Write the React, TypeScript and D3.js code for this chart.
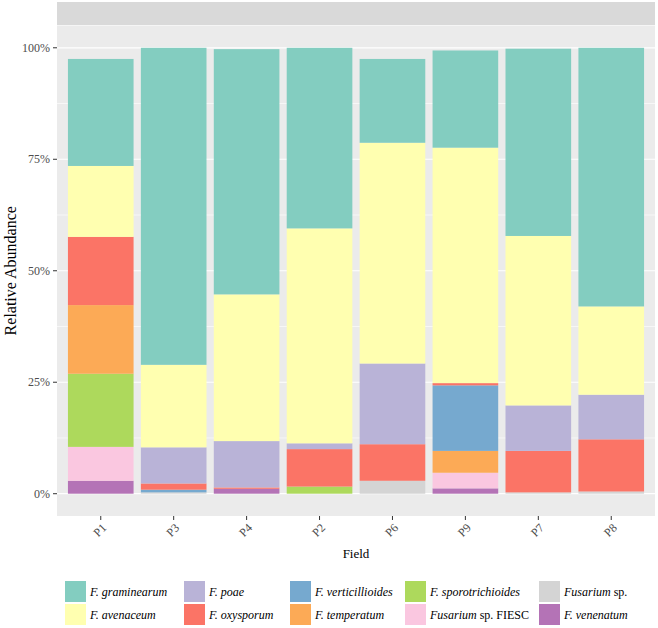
import React from "react";
import * as d3 from "d3";

const fields = ["P1", "P3", "P4", "P2", "P6", "P9", "P7", "P8"];
const graminearum = [24.0, 71.1, 55.0, 40.5, 18.8, 21.8, 42.0, 58.0];
const avenaceum = [15.9, 18.5, 32.9, 48.2, 49.5, 52.8, 38.0, 19.8];
const poae = [0, 8.1, 10.4, 1.3, 18.1, 0, 10.2, 10.0];
const oxysporum = [15.3, 1.4, 0.3, 8.4, 8.2, 0.5, 9.3, 11.7];
const verticillioides = [0, 0.6, 0, 0, 0, 14.7, 0, 0];
const temperatum = [15.4, 0, 0, 0, 0, 4.9, 0, 0];
const sporotrichioides = [16.4, 0, 0, 1.6, 0, 0, 0, 0];
const fiesc = [7.6, 0, 0, 0, 0, 3.5, 0, 0];
const fusariumSp = [0, 0.3, 0, 0, 2.9, 0, 0.3, 0.5];
const venenatum = [2.9, 0, 1.1, 0, 0, 1.2, 0, 0];

const yTicks = [0, 0.25, 0.5, 0.75, 1];
const yTickLabels = ["0%", "25%", "50%", "75%", "100%"];

// legend order (column-major in 2 rows)
const speciesKeys = [
  "gram", "aven", "poae", "oxy", "vert", "temp", "sporo", "fiesc", "fussp", "ven",
];
const speciesItalic = [
  "F. graminearum", "F. avenaceum", "F. poae", "F. oxysporum", "F. verticillioides",
  "F. temperatum", "F. sporotrichioides", "Fusarium", "Fusarium", "F. venenatum",
];
const speciesRegular = ["", "", "", "", "", "", "", " sp. FIESC", " sp.", ""];
const speciesColors = [
  "#83CDC0", "#FFFFB0", "#B9B3D7", "#FB7466", "#76A9CF",
  "#FCAA56", "#ADD95C", "#FAC7E0", "#D4D4D4", "#B473B6",
];
const seriesValues = [
  graminearum, avenaceum, poae, oxysporum, verticillioides,
  temperatum, sporotrichioides, fiesc, fusariumSp, venenatum,
];

const W = 658, H = 628;
const panel = { left: 57, right: 655, top: 25.5, bottom: 516 };
const font = "'Liberation Serif', 'Times New Roman', Times, serif";

export default function App() {
  const rows = fields.map((f, i) => {
    const r: any = { field: f };
    speciesKeys.forEach((k, j) => (r[k] = seriesValues[j][i] / 100));
    return r;
  });
  const stackOrder = [...speciesKeys].reverse(); // bottom to top
  const series = d3.stack().keys(stackOrder)(rows);

  const x = d3
    .scaleBand()
    .domain(fields)
    .range([panel.left, panel.right])
    .paddingInner(0.1)
    .paddingOuter(0.15);
  const y = d3
    .scaleLinear()
    .domain([-0.05, 1.05])
    .range([panel.bottom, panel.top]);

  const minor = [0.125, 0.375, 0.625, 0.875];
  const colorOf = (k: string) => speciesColors[speciesKeys.indexOf(k)];

  const legendColX = [65, 184, 290, 405, 539];
  const legendRowY = [581, 604];
  const keySize = 21;

  return (
    <svg
      width={W}
      height={H}
      style={{ position: "absolute", left: 0, top: 0, background: "#fff", fontFamily: font }}
    >
      {/* strip */}
      <rect x={panel.left} y={2} width={panel.right - panel.left} height={23} fill="#D9D9D9" />
      {/* panel */}
      <rect
        x={panel.left}
        y={panel.top}
        width={panel.right - panel.left}
        height={panel.bottom - panel.top}
        fill="#EBEBEB"
      />
      {minor.map((v) => (
        <line key={"mi" + v} x1={panel.left} x2={panel.right} y1={y(v)} y2={y(v)} stroke="#fff" strokeWidth={0.6} />
      ))}
      {yTicks.map((v) => (
        <line key={"ma" + v} x1={panel.left} x2={panel.right} y1={y(v)} y2={y(v)} stroke="#fff" strokeWidth={1.2} />
      ))}
      {/* bars */}
      {series.map((s) => (
        <g key={s.key} fill={colorOf(s.key)}>
          {s.map((d, i) =>
            d[1] - d[0] > 0 ? (
              <rect
                key={i}
                x={x(fields[i])}
                y={y(d[1])}
                width={x.bandwidth()}
                height={y(d[0]) - y(d[1])}
              />
            ) : null
          )}
        </g>
      ))}
      {/* y axis */}
      {yTicks.map((v, i) => (
        <g key={"yt" + v}>
          <line x1={panel.left - 4} x2={panel.left} y1={y(v)} y2={y(v)} stroke="#333" strokeWidth={1} />
          <text x={panel.left - 7} y={y(v) + 4} textAnchor="end" fontSize={12} fill="#4D4D4D" fontFamily={font}>
            {yTickLabels[i]}
          </text>
        </g>
      ))}
      <text
        transform={`translate(16,${(panel.top + panel.bottom) / 2}) rotate(-90)`}
        textAnchor="middle"
        fontSize={16}
        fill="#000"
        fontFamily={font}
      >
        Relative Abundance
      </text>
      {/* x axis */}
      {fields.map((f) => {
        const cx = (x(f) as number) + x.bandwidth() / 2;
        return (
          <g key={"xt" + f}>
            <line x1={cx} x2={cx} y1={panel.bottom} y2={panel.bottom + 4} stroke="#333" strokeWidth={1} />
            <text
              transform={`translate(${cx},${panel.bottom + 15}) rotate(-45)`}
              textAnchor="middle"
              dominantBaseline="middle"
              fontSize={12}
              fill="#4D4D4D"
              fontFamily={font}
            >
              {f}
            </text>
          </g>
        );
      })}
      <text x={(panel.left + panel.right) / 2} y={558} textAnchor="middle" fontSize={13} fill="#000" fontFamily={font}>
        Field
      </text>
      {/* legend */}
      {speciesKeys.map((k, i) => {
        const col = Math.floor(i / 2);
        const row = i % 2;
        const kx = legendColX[col];
        const ky = legendRowY[row];
        return (
          <g key={"lg" + k}>
            <rect x={kx} y={ky} width={keySize} height={keySize} fill={speciesColors[i]} />
            <text x={kx + keySize + 4} y={ky + keySize / 2 + 4} fontSize={12} fill="#000" fontFamily={font}>
              <tspan fontStyle="italic">{speciesItalic[i]}</tspan>
              {speciesRegular[i] ? <tspan>{speciesRegular[i]}</tspan> : null}
            </text>
          </g>
        );
      })}
    </svg>
  );
}
